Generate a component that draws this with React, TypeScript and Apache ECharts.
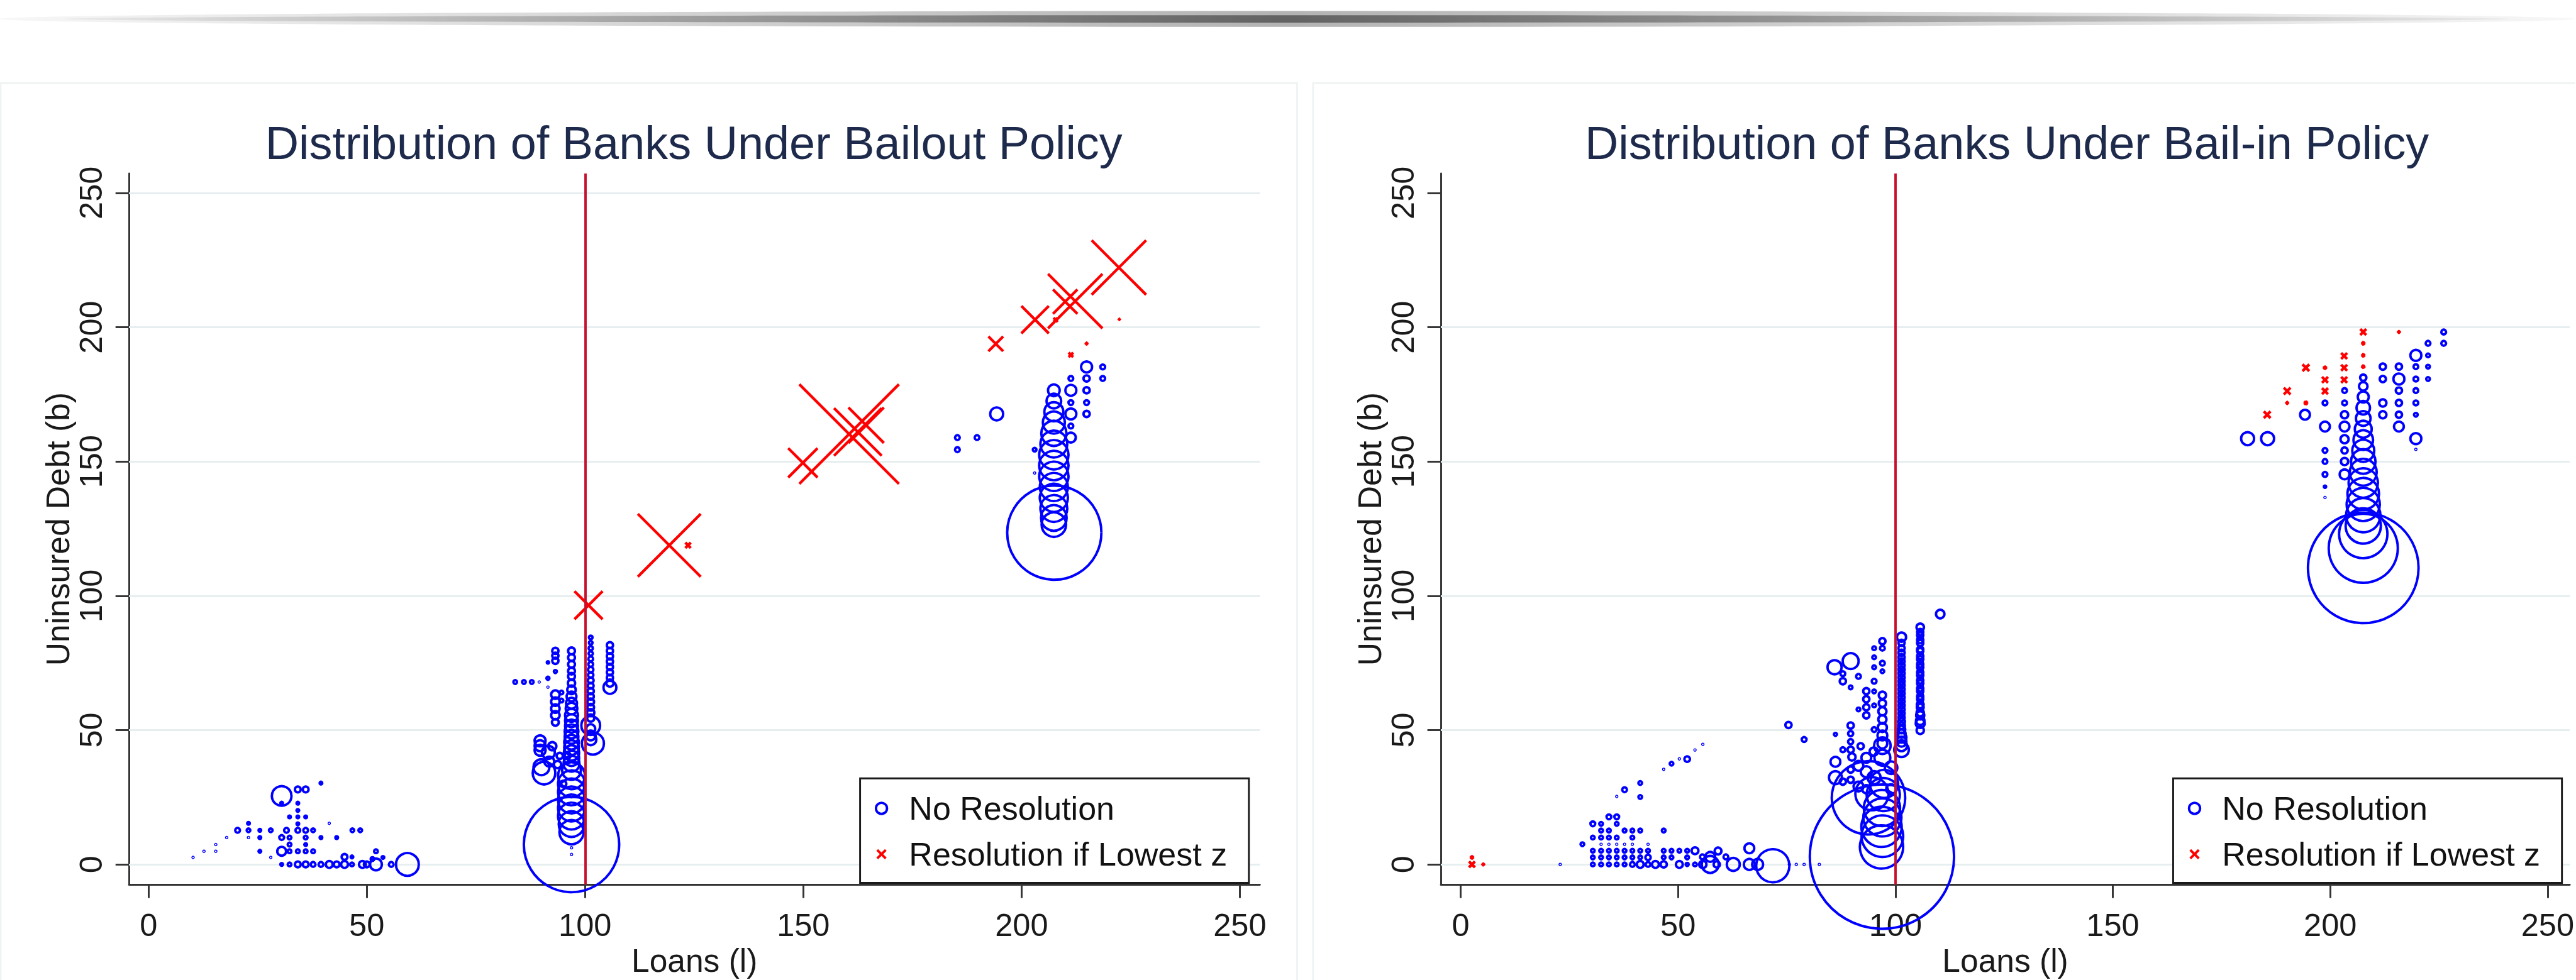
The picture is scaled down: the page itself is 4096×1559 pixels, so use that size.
import React, { useEffect, useRef } from "react";
import * as echarts from "echarts";

// ---------------- data ----------------
const titles = ["Distribution of Banks Under Bailout Policy", "Distribution of Banks Under Bail-in Policy"];
const legendLabels = ["No Resolution", "Resolution if Lowest z"];
const xAxisTitle = "Loans (l)";
const yAxisTitle = "Uninsured Debt (b)";
const loanTicks = [0, 50, 100, 150, 200, 250];
const debtTicks = [0, 50, 100, 150, 200, 250];
const bailoutGridValues = [0, 50, 100, 150, 200, 250];
const bailinGridValues = [0, 50, 100, 150, 200];
const loanThreshold = 100;

// [loans, uninsured debt, weight]
const bailoutNoResolution: number[][] = [
  [10.2, 2.6, 0.1], [12.7, 4.9, 0.1], [15.4, 7.4, 0.1], [15.4, 4.9, 0.1], [17.9, 10.0, 0.1], [28.0, 2.6, 0.1], [41.4, 15.3, 0.1], [22.9, 10.0, 0.1],
  [30.5, 25.5, 13], [34.2, 27.9, 1.8], [36.0, 27.9, 1.8], [39.5, 30.3, 0.7],
  [30.5, 22.8, 0.7], [34.2, 22.8, 0.7], [34.2, 20.1, 0.7], [32.3, 17.7, 0.7], [34.2, 17.7, 0.7], [36.0, 17.7, 0.7], [34.2, 15.1, 0.7], [22.9, 15.3, 0.7],
  [20.4, 12.7, 1.4], [22.9, 12.7, 1.0], [25.5, 12.7, 0.7], [28.0, 12.7, 1.0], [31.6, 12.7, 1.4], [34.2, 12.7, 1.4], [36.0, 12.7, 1.4], [37.7, 12.7, 1.0], [46.7, 12.7, 1.0], [48.5, 12.7, 1.0],
  [25.5, 10.0, 0.7], [30.5, 10.0, 1.4], [32.3, 10.0, 1.0], [36.0, 10.0, 1.0], [39.5, 10.0, 0.7], [43.1, 10.0, 0.7],
  [32.3, 7.4, 1.0], [36.0, 7.4, 0.7],
  [25.5, 4.9, 0.7], [30.5, 4.9, 3.4], [32.3, 4.9, 1.0], [34.2, 4.9, 1.0], [36.0, 4.9, 1.0], [37.7, 4.9, 1.0],
  [30.5, 0, 0.7], [32.3, 0, 1.0], [34.2, 0, 1.8], [36.0, 0, 1.8], [37.7, 0, 1.4], [39.5, 0, 1.4], [41.4, 0, 2.3], [43.1, 0, 1.8], [44.9, 0, 2.3],
  [46.6, 0, 1.0], [49.0, 0, 2.3], [50.0, 0, 1.8], [52.1, 0, 5.4], [55.6, 0, 1.4], [59.3, 0, 17],
  [44.9, 2.8, 1.8], [46.6, 2.8, 0.7], [52.1, 4.9, 1.0], [53.7, 2.6, 0.7], [51.3, 2.0, 1.0],
  [84.0, 67.9, 1.0], [86.0, 67.9, 1.0], [87.8, 67.9, 1.0], [89.5, 67.9, 0.1],
  [91.5, 75.2, 0.6], [93.2, 71.8, 0.8], [91.5, 69.3, 0.8], [91.5, 66.0, 0.1],
  [93.2, 79.5, 2.0], [93.2, 77.7, 2.0], [93.2, 75.8, 2.0], [93.2, 63.2, 3.2], [93.2, 60.6, 3.2], [93.2, 58.0, 3.2], [93.2, 55.5, 3.2], [93.2, 52.9, 2.3],
  [94.6, 64.0, 1.0], [94.6, 61.0, 1.0],
  [96.9, 79.5, 2.3], [96.9, 77.0, 2.3], [96.9, 74.5, 2.3], [96.9, 72.0, 2.3], [96.9, 70.0, 2.3], [96.9, 67.5, 2.5], [96.9, 65.0, 3.2], [96.9, 62.5, 4.0],
  [96.9, 60.0, 4.8], [96.9, 58.0, 5.3], [96.9, 55.5, 6.3], [96.9, 53.5, 6.3], [96.9, 51.5, 6.3], [96.9, 49.5, 7.0], [96.9, 47.5, 7.0], [96.9, 45.5, 7.8],
  [96.9, 43.5, 7.8], [96.9, 41.5, 8.4], [96.9, 39.5, 8.4], [96.9, 37.5, 9.0], [96.9, 35.0, 12], [96.9, 33.0, 23], [96.9, 30.0, 23], [96.9, 27.0, 23],
  [96.9, 24.0, 23], [96.9, 21.0, 23], [96.9, 18.0, 23], [96.9, 15.0, 21], [96.9, 12.0, 19], [96.9, 6.2, 0.1], [96.9, 3.7, 0.1],
  [96.9, 7.4, 256],
  [101.3, 84.5, 1.0], [101.3, 82.5, 1.0], [101.3, 80.5, 1.2], [101.3, 78.5, 1.2], [101.3, 76.5, 1.4], [101.3, 74.5, 1.4], [101.3, 72.5, 1.6], [101.3, 70.5, 1.6],
  [101.3, 68.5, 1.8], [101.3, 66.5, 1.8], [101.3, 64.5, 2.0], [101.3, 62.5, 2.0], [101.3, 60.5, 2.2], [101.3, 58.5, 2.2], [101.3, 56.5, 2.5], [101.3, 54.5, 2.5],
  [101.3, 51.7, 12], [101.3, 50.5, 3.5], [101.3, 48.0, 4.0], [101.8, 45.0, 16], [101.3, 46.5, 5.0],
  [105.7, 81.6, 2.0], [105.7, 79.5, 2.0], [105.7, 77.5, 2.0], [105.7, 75.5, 2.0], [105.7, 73.5, 2.0], [105.7, 71.5, 2.0], [105.7, 69.5, 2.0], [105.7, 67.5, 2.5], [105.7, 65.9, 6.3],
  [89.7, 46.0, 4.8], [89.7, 44.2, 4.8], [89.7, 42.5, 4.8], [91.6, 41.7, 6.3], [90.0, 36.2, 9.0], [90.6, 34.0, 16.8], [91.8, 38.3, 4.0], [93.7, 37.2, 2.5],
  [94.2, 40.4, 2.0], [92.5, 44.0, 3.0], [95.0, 30.0, 2.0], [96.0, 40.5, 2.0],
  [185.3, 158.9, 1.4], [185.3, 154.4, 1.4], [189.8, 158.9, 1.4], [194.3, 167.7, 6.3], [203.0, 154.4, 1.0], [203.0, 145.7, 0.1],
  [207.4, 176.5, 5.3], [207.4, 172.5, 7.8], [207.4, 168.5, 12.3], [207.4, 164.5, 16], [207.4, 160.5, 20.3], [207.4, 156.5, 23], [207.4, 152.5, 27],
  [207.4, 148.5, 27], [207.4, 144.5, 27], [207.4, 140.5, 25], [207.4, 136.5, 25], [207.4, 132.5, 23], [207.4, 129.0, 21], [207.4, 126.5, 19.4],
  [207.5, 123.5, 250],
  [211.3, 180.9, 1.4], [211.3, 176.5, 4.8], [211.3, 171.9, 1.4], [211.3, 167.7, 4.8], [211.3, 163.2, 1.4], [211.3, 158.9, 4.0],
  [214.9, 185.2, 4.8], [214.9, 180.9, 2.0], [214.9, 176.5, 2.0], [214.9, 171.9, 1.4], [214.9, 167.7, 2.0],
  [218.6, 185.2, 1.4], [218.6, 180.9, 1.4],
];

const bailoutResolution: number[][] = [
  [100.8, 96.5, 23], [119.3, 118.8, 110], [123.6, 118.8, 1.2], [149.9, 149.5, 25],
  [160.5, 160.2, 272], [162.5, 161.0, 64], [164.4, 163.5, 36],
  [194.1, 193.8, 6.8], [203.1, 202.8, 22], [207.8, 202.7, 0.8], [210.0, 209.5, 17.6], [212.3, 209.7, 83],
  [211.3, 189.7, 0.9], [214.9, 193.9, 0.4], [222.3, 222.2, 83], [222.4, 202.9, 0.3],
];

const bailinNoResolution: number[][] = [
  [22.9, 0, 0.1], [28.0, 7.5, 1.0],
  [30.4, 0, 1.0], [32.3, 0, 1.0], [34.1, 0, 1.0], [35.9, 0, 1.0], [37.7, 0, 1.0], [39.5, 0, 1.4], [41.3, 0, 2.3], [43.1, 0, 1.4], [44.8, 0, 2.3],
  [46.7, 0, 2.0], [50.3, 0, 2.3], [52.1, 0, 0.8], [53.9, 0, 1.0], [55.7, 0, 2.5],
  [30.4, 2.6, 1.0], [32.3, 2.6, 1.0], [34.1, 2.6, 1.0], [35.9, 2.6, 1.0], [37.7, 2.6, 1.0], [39.5, 2.6, 1.0], [41.3, 2.6, 1.0], [43.1, 2.6, 1.6],
  [46.7, 2.6, 1.0], [48.5, 2.6, 1.0], [52.1, 2.6, 1.0],
  [30.4, 5.1, 1.0], [32.3, 5.1, 1.0], [34.1, 5.1, 1.0], [35.9, 5.1, 1.0], [37.7, 5.1, 1.0], [39.5, 5.1, 1.0], [41.3, 5.1, 1.0], [43.1, 5.1, 1.0],
  [46.7, 5.1, 1.0], [48.5, 5.1, 1.0], [50.3, 5.1, 1.0], [52.1, 5.1, 1.0], [53.9, 5.1, 2.3],
  [32.3, 7.5, 0.1], [34.1, 7.5, 0.1], [35.9, 7.5, 0.1], [37.7, 7.5, 0.1], [39.5, 7.5, 0.1], [43.1, 7.5, 0.1],
  [30.4, 10.0, 1.0], [32.3, 10.0, 1.0], [34.1, 10.0, 1.0], [35.9, 10.0, 1.0], [39.5, 10.0, 1.0],
  [32.3, 12.6, 1.0], [34.1, 12.6, 1.0], [37.7, 12.6, 1.0], [39.5, 12.6, 1.0], [41.3, 12.6, 1.0], [46.7, 12.6, 1.0],
  [30.4, 15.1, 1.4], [32.3, 15.1, 1.0], [35.9, 15.1, 1.0], [34.1, 17.7, 1.4], [35.9, 17.7, 1.4],
  [37.7, 27.8, 1.4], [35.9, 25.3, 0.1], [41.3, 30.3, 1.0], [41.3, 25.1, 1.0],
  [46.7, 35.4, 0.1], [48.5, 37.5, 1.0], [50.3, 39.3, 0.1], [52.1, 39.2, 1.7], [53.9, 42.6, 0.1], [55.7, 44.7, 0.1],
  [57.4, 0, 10], [58.9, 0, 2.0], [62.7, 0, 6.3], [66.4, 0, 4.8], [68.3, 0, 4.8], [71.8, -0.5, 34],
  [75.6, 0, 0.1], [77.2, 0, 0.1], [79.0, 0, 0.1], [82.5, 0, 0.1],
  [55.6, 2.8, 1.4], [57.4, 2.8, 4.0], [61.0, 2.8, 1.4], [59.2, 5.0, 2.3], [66.4, 6.0, 4.0],
  [96.9, 2.9, 576], [93.8, 24.8, 154], [94.6, 26.3, 34],
  [96.8, 6.5, 56], [97.0, 10.5, 52], [96.8, 14.0, 49], [97.0, 17.5, 44], [96.9, 21.0, 40], [97.2, 26.0, 34], [97.4, 30.0, 25],
  [101.4, 84.6, 3.6], [101.4, 82.5, 2.0], [101.4, 80.5, 2.0], [101.4, 78.8, 2.0], [101.4, 77.1, 2.0], [101.4, 75.6, 2.0], [101.4, 74.1, 2.0],
  [101.4, 72.6, 2.0], [101.4, 71.1, 2.0], [101.4, 69.6, 2.0], [101.4, 68.1, 2.0], [101.4, 66.7, 2.0], [101.4, 65.2, 2.0], [101.4, 63.7, 2.0],
  [101.4, 62.2, 2.0], [101.4, 60.7, 2.0], [101.4, 59.2, 2.0], [101.4, 57.7, 2.0], [101.4, 56.2, 2.0], [101.4, 54.7, 2.0], [101.4, 53.2, 2.3],
  [101.4, 51.7, 2.3], [101.4, 50.2, 2.6], [101.4, 48.7, 3.0], [101.4, 47.2, 4.0], [101.4, 45.7, 4.0], [101.4, 44.2, 4.8], [101.4, 42.7, 7.8],
  [105.7, 88.3, 2.6], [105.7, 86.5, 2.0], [105.7, 85.3, 2.0], [105.7, 83.5, 2.0], [105.7, 82.4, 2.0], [105.7, 80.0, 2.0], [105.7, 79.4, 2.0],
  [105.7, 77.5, 2.0], [105.7, 76.4, 2.0], [105.7, 74.5, 2.0], [105.7, 73.4, 2.0], [105.7, 71.5, 2.0], [105.7, 70.4, 2.0], [105.7, 68.5, 2.0],
  [105.7, 67.4, 2.0], [105.7, 65.5, 2.0], [105.7, 64.5, 2.0], [105.7, 62.5, 2.0], [105.7, 61.5, 2.0], [105.7, 59.5, 2.3], [105.7, 58.5, 2.3],
  [105.7, 56.5, 2.5], [105.7, 55.5, 3.0], [105.7, 53.5, 3.2], [105.7, 52.5, 3.5], [105.7, 49.9, 2.5],
  [110.3, 93.2, 3.2], [75.4, 51.9, 2.0], [79.0, 46.5, 1.4], [86.2, 48.4, 0.8], [86.0, 73.4, 7.3], [89.7, 75.7, 9.0],
  [97.0, 83.1, 2.0], [97.0, 80.5, 1.4], [95.1, 80.5, 1.0], [97.0, 74.9, 1.4], [95.1, 77.1, 1.0], [95.1, 73.4, 1.0], [97.0, 71.9, 1.0],
  [95.1, 68.2, 1.4], [95.1, 64.4, 1.0], [91.5, 70.0, 1.4], [89.7, 65.9, 1.0], [87.9, 68.2, 2.0], [87.9, 71.0, 1.4],
  [93.3, 64.5, 2.0], [93.3, 61.5, 2.0], [93.3, 58.5, 2.0], [93.3, 55.5, 2.0], [91.5, 57.7, 1.0], [95.1, 59.2, 1.0], [95.1, 50.2, 1.4],
  [89.7, 51.7, 2.0], [89.7, 48.7, 1.5], [89.7, 45.7, 1.5], [89.7, 42.7, 2.0],
  [97.0, 63.0, 2.5], [97.0, 60.0, 2.5], [97.0, 57.0, 3.0], [97.0, 54.0, 3.0], [97.0, 51.0, 3.5], [97.0, 48.0, 4.0], [97.0, 45.0, 4.0],
  [86.2, 38.2, 4.0], [86.2, 32.3, 6.3], [87.9, 42.7, 1.4], [89.7, 35.3, 2.0], [91.5, 36.7, 4.0], [93.3, 34.5, 4.8], [95.1, 32.3, 6.3],
  [97.0, 39.7, 9.0], [97.0, 44.2, 9.6], [93.3, 39.7, 4.0], [87.9, 30.8, 2.0], [89.7, 31.5, 2.0], [91.5, 29.0, 4.0], [93.3, 28.0, 3.0],
  [99.0, 36.0, 6.0], [99.0, 28.0, 4.0], [95.0, 42.0, 3.0], [92.0, 44.0, 2.0], [90.0, 40.0, 2.5],
  [207.6, 181.2, 2.0], [207.6, 178.0, 3.2], [207.6, 174.0, 4.8], [207.6, 170.0, 6.8], [207.6, 166.0, 7.8], [207.6, 162.0, 10], [207.6, 158.0, 13],
  [207.6, 154.0, 16], [207.6, 150.0, 19.4], [207.6, 146.0, 23], [207.6, 142.0, 27], [207.6, 138.0, 31], [207.6, 134.0, 34], [207.6, 130.0, 36],
  [207.6, 126.0, 38], [207.6, 123.0, 69], [207.6, 117.7, 137], [207.6, 110.4, 342],
  [203.3, 176.4, 1.4], [203.3, 171.8, 1.4], [203.3, 167.4, 2.5], [203.3, 163.0, 4.0], [203.3, 158.3, 3.0], [203.3, 154.1, 2.0], [203.3, 150.0, 2.5], [203.3, 145.2, 4.0],
  [198.8, 171.8, 1.4], [198.8, 163.0, 4.0], [198.8, 154.1, 1.4], [198.8, 150.0, 1.4], [198.8, 145.2, 1.4], [198.8, 140.6, 0.6], [198.8, 136.6, 0.1],
  [194.2, 167.4, 4.0], [185.6, 158.5, 6.3], [181.0, 158.5, 6.3],
  [212.1, 185.3, 2.0], [212.1, 180.7, 2.0], [212.1, 171.8, 2.5], [212.1, 167.4, 2.5],
  [215.8, 185.3, 2.0], [215.8, 180.7, 4.8], [215.8, 176.4, 2.0], [215.8, 171.8, 2.0], [215.8, 167.4, 2.0], [215.8, 163.0, 4.0],
  [219.7, 189.5, 4.8], [219.7, 185.3, 1.4], [219.7, 180.7, 1.4], [219.7, 176.4, 1.4], [219.7, 171.8, 1.4], [219.7, 167.4, 1.0], [219.7, 158.5, 4.8], [219.7, 154.5, 0.1],
  [222.5, 194.0, 1.4], [222.5, 189.5, 1.0], [222.5, 185.3, 1.0], [222.5, 180.7, 1.0],
  [226.1, 198.2, 1.4], [226.1, 194.0, 1.4],
];

const bailinResolution: number[][] = [
  [2.6, 2.6, 0.5], [2.6, 0, 1.4], [5.2, 0, 0.4],
  [185.5, 167.4, 1.7], [190.1, 176.2, 1.7], [190.1, 171.8, 0.4], [194.4, 184.9, 1.7], [194.4, 171.8, 0.6],
  [198.8, 184.9, 0.5], [198.8, 180.4, 1.4], [198.8, 176.2, 1.4],
  [203.2, 189.3, 1.4], [203.2, 184.9, 1.4], [203.2, 180.4, 1.4],
  [207.6, 198.2, 1.4], [207.6, 194.0, 0.5], [207.6, 189.5, 0.5], [207.6, 185.3, 0.5], [215.8, 198.2, 0.4],
];

// ---------------- layout (reference px, scaled by S) ----------------
const S = 0.972;
const P = (v: number) => v * S;
const FONT = '"Liberation Sans", Arial, Helvetica, sans-serif';
const AXIS_COLOR = "#333333";
const TEXT_COLOR = "#1a1a1a";
const TITLE_COLOR = "#1d2a4b";
const BLUE = "#0000ff";
const RED = "#ff0000";
const CIRCLE_LW = 4;
const CROSS_LW = 4.5;

const panels = [
  { left: 211, width: 1850, xMin: -4.48, xMax: 254.6, titleX: 1135, legendX: 1407, grid: bailoutGridValues, blue: bailoutNoResolution, red: bailoutResolution },
  { left: 2357, width: 1852, xMin: -4.56, xMax: 255.1, titleX: 3283, legendX: 3555, grid: bailinGridValues, blue: bailinNoResolution, red: bailinResolution },
];
const GRID_TOP = 284;
const GRID_H = 1180;
const Y_MIN = -7.51;
const Y_MAX = 257.2;

function buildOption() {
  const grids: any[] = [];
  const xAxes: any[] = [];
  const yAxes: any[] = [];
  const series: any[] = [];
  const graphics: any[] = [];

  // top shadow and faint panel frames
  graphics.push({
    type: "ellipse", z: 0, silent: true,
    shape: { cx: P(2106), cy: P(31), rx: P(2106), ry: P(13) },
    style: { fill: new echarts.graphic.LinearGradient(0, 0, 1, 0, [
      { offset: 0, color: "rgba(0,0,0,0.03)" }, { offset: 0.5, color: "rgba(0,0,0,0.3)" }, { offset: 1, color: "rgba(0,0,0,0.03)" }]) },
  });
  graphics.push({
    type: "ellipse", z: 0, silent: true,
    shape: { cx: P(2106), cy: P(31), rx: P(2000), ry: P(6) },
    style: { fill: new echarts.graphic.LinearGradient(0, 0, 1, 0, [
      { offset: 0, color: "rgba(0,0,0,0.04)" }, { offset: 0.5, color: "rgba(0,0,0,0.45)" }, { offset: 1, color: "rgba(0,0,0,0.04)" }]) },
  });
  const frame = { stroke: "#f0f3f3", lineWidth: P(3) };
  graphics.push({ type: "polyline", silent: true, shape: { points: [[P(1), P(1604)], [P(1), P(136)], [P(2122), P(136)], [P(2122), P(1604)]] }, style: frame });
  graphics.push({ type: "polyline", silent: true, shape: { points: [[P(2148), P(1604)], [P(2148), P(136)], [P(4213), P(136)]] }, style: frame });

  panels.forEach((pn, i) => {
    grids.push({ left: P(pn.left), top: P(GRID_TOP), width: P(pn.width), height: P(GRID_H), containLabel: false });
    xAxes.push({
      gridIndex: i, type: "value", min: pn.xMin, max: pn.xMax,
      axisLine: { show: true, onZero: false, lineStyle: { color: AXIS_COLOR, width: P(3) } },
      axisTick: { show: true, length: P(22), customValues: loanTicks, lineStyle: { color: AXIS_COLOR, width: P(3) } },
      axisLabel: { show: true, customValues: loanTicks, margin: P(40), fontSize: P(52), color: TEXT_COLOR, fontFamily: FONT },
      splitLine: { show: false },
      name: xAxisTitle, nameLocation: "middle", nameGap: P(92),
      nameTextStyle: { fontSize: P(53), color: TEXT_COLOR, fontFamily: FONT },
    });
    yAxes.push({
      gridIndex: i, type: "value", min: Y_MIN, max: Y_MAX,
      axisLine: { show: true, onZero: false, lineStyle: { color: AXIS_COLOR, width: P(3) } },
      axisTick: { show: true, length: P(22), customValues: debtTicks, lineStyle: { color: AXIS_COLOR, width: P(3) } },
      axisLabel: { show: true, customValues: debtTicks, rotate: 90, margin: P(36), fontSize: P(52), color: TEXT_COLOR, fontFamily: FONT },
      splitLine: { show: false },
      name: yAxisTitle, nameLocation: "middle", nameGap: P(88), nameRotate: 90,
      nameTextStyle: { fontSize: P(53), color: TEXT_COLOR, fontFamily: FONT },
    });

    // gridlines
    series.push({
      type: "scatter", xAxisIndex: i, yAxisIndex: i, data: [], silent: true, z: 1,
      markLine: {
        z: 1, silent: true, symbol: ["none", "none"], label: { show: false }, emphasis: { disabled: true },
        lineStyle: { color: "#e6eef0", width: P(3), type: "solid" },
        data: pn.grid.map((v) => ({ yAxis: v })),
      },
    });
    // no resolution (hollow circles)
    series.push({
      type: "scatter", name: legendLabels[0], xAxisIndex: i, yAxisIndex: i, data: pn.blue, silent: true, z: 3,
      symbol: "circle",
      symbolSize: (v: number[]) => Math.max(10 * Math.sqrt(v[2]) - CIRCLE_LW, 1.5) * S,
      itemStyle: { color: "rgba(0,0,0,0)", borderColor: BLUE, borderWidth: P(CIRCLE_LW), opacity: 1 },
      emphasis: { disabled: true },
    });
    // resolution (crosses)
    series.push({
      type: "scatter", name: legendLabels[1], xAxisIndex: i, yAxisIndex: i, data: pn.red, silent: true, z: 4,
      symbol: "path://M0 0L10 10M10 0L0 10",
      symbolSize: (v: number[]) => Math.max(10 * Math.sqrt(v[2]) - 2, 3) * S,
      itemStyle: { color: "rgba(0,0,0,0)", borderColor: RED, borderWidth: P(CROSS_LW), opacity: 1 },
      emphasis: { disabled: true },
    });
    // threshold line
    series.push({
      type: "scatter", xAxisIndex: i, yAxisIndex: i, data: [], silent: true, z: 6,
      markLine: {
        z: 6, silent: true, symbol: ["none", "none"], label: { show: false }, emphasis: { disabled: true },
        lineStyle: { color: "#c8102e", width: P(4), type: "solid" },
        data: [{ xAxis: loanThreshold }],
      },
    });

    // title
    graphics.push({
      type: "text", z: 10, silent: true, x: P(pn.titleX), y: P(234),
      style: { text: titles[i], fill: TITLE_COLOR, fontSize: P(76), fontFamily: FONT,
        align: "center", verticalAlign: "middle", textAlign: "center", textVerticalAlign: "middle" },
    });
    // legend
    const lx = pn.legendX;
    graphics.push({
      type: "rect", z: 10, silent: true,
      shape: { x: P(lx), y: P(1274), width: P(636), height: P(171) },
      style: { fill: "#ffffff", stroke: "#1a1a1a", lineWidth: P(3) },
    });
    graphics.push({
      type: "circle", z: 11, silent: true,
      shape: { cx: P(lx + 35), cy: P(1323), r: P(9) },
      style: { fill: "none", stroke: BLUE, lineWidth: P(4) },
    });
    graphics.push({ type: "line", z: 11, silent: true, shape: { x1: P(lx + 28), y1: P(1391), x2: P(lx + 42), y2: P(1405) }, style: { stroke: RED, lineWidth: P(4) } });
    graphics.push({ type: "line", z: 11, silent: true, shape: { x1: P(lx + 42), y1: P(1391), x2: P(lx + 28), y2: P(1405) }, style: { stroke: RED, lineWidth: P(4) } });
    legendLabels.forEach((lab, k) => {
      graphics.push({
        type: "text", z: 11, silent: true, x: P(lx + 80), y: P(k === 0 ? 1323 : 1398),
        style: { text: lab, fill: "#111111", fontSize: P(53.5), fontFamily: FONT,
          align: "left", verticalAlign: "middle", textAlign: "left", textVerticalAlign: "middle" },
      });
    });
  });

  return {
    animation: false,
    backgroundColor: "#ffffff",
    grid: grids,
    xAxis: xAxes,
    yAxis: yAxes,
    series,
    graphic: { elements: graphics },
  };
}

export default function App() {
  const ref = useRef<HTMLDivElement>(null);
  useEffect(() => {
    document.body.style.margin = "0";
    if (!ref.current) return;
    const chart = echarts.init(ref.current, undefined, { renderer: "svg", width: 4096, height: 1559 });
    chart.setOption(buildOption() as any);
    return () => chart.dispose();
  }, []);
  return (
    <div
      ref={ref}
      style={{ position: "fixed", left: 0, top: 0, width: 4096, height: 1559, background: "#fff" }}
    />
  );
}
